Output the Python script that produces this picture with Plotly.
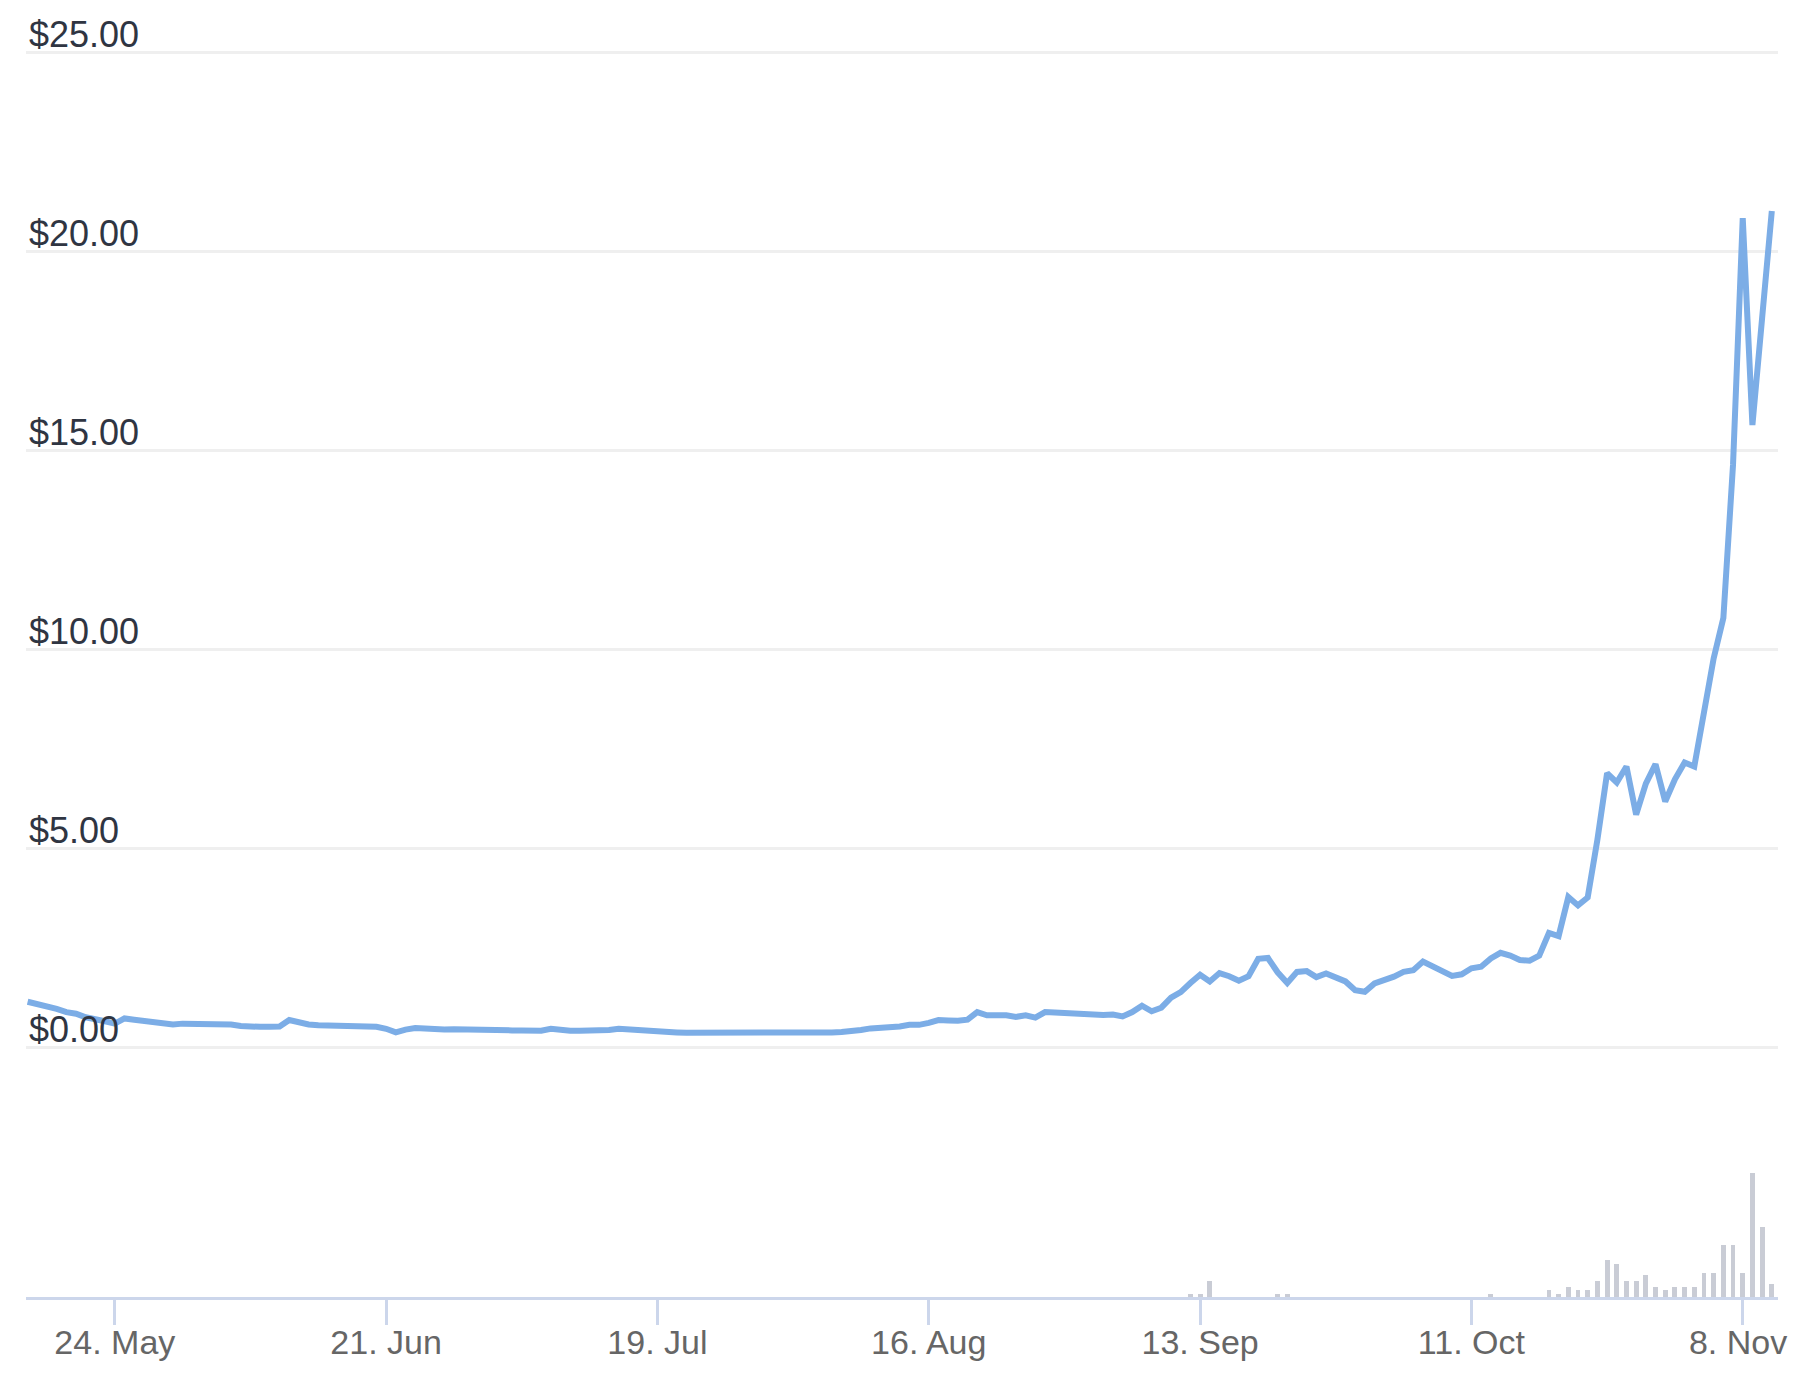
import pandas as pd
import plotly.graph_objects as go

# ---- data ----
start_date = "2021-05-15"
prices = [
    1.15, 1.10, 1.05, 0.97, 0.89, 0.85, 0.76, 0.72, 0.66, 0.60,
    0.73, 0.70, 0.67, 0.66, 0.62, 0.58, 0.60, 0.60, 0.59, 0.60,
    0.60, 0.58, 0.54, 0.52, 0.52, 0.52, 0.53, 0.69, 0.62, 0.58,
    0.56, 0.55, 0.55, 0.55, 0.55, 0.54, 0.52, 0.47, 0.38, 0.45,
    0.49, 0.48, 0.45, 0.45, 0.46, 0.45, 0.45, 0.43, 0.44, 0.43,
    0.43, 0.43, 0.42, 0.42, 0.47, 0.44, 0.42, 0.42, 0.42, 0.42,
    0.44, 0.47, 0.45, 0.44, 0.43, 0.42, 0.40, 0.38, 0.37, 0.37,
    0.38, 0.38, 0.38, 0.38, 0.36, 0.35, 0.36, 0.37, 0.38, 0.37,
    0.37, 0.37, 0.37, 0.38, 0.39, 0.40, 0.44, 0.48, 0.49, 0.49,
    0.53, 0.57, 0.57, 0.62, 0.69, 0.68, 0.67, 0.70, 0.89, 0.81,
    0.81, 0.81, 0.77, 0.81, 0.75, 0.89, 0.88, 0.87, 0.86, 0.84,
    0.81, 0.82, 0.83, 0.78, 0.89, 1.05, 0.91, 1.00, 1.25, 1.39,
    1.62, 1.83, 1.66, 1.87, 1.79, 1.68, 1.79, 2.23, 2.25, 1.89,
    1.62, 1.90, 1.92, 1.77, 1.86, 1.75, 1.66, 1.44, 1.40, 1.61,
    1.69, 1.78, 1.90, 1.94, 2.16, 2.05, 1.93, 1.80, 1.84, 1.99,
    2.03, 2.24, 2.38, 2.31, 2.20, 2.18, 2.31, 2.88, 2.80, 3.78,
    3.57, 3.77, 5.22, 6.89, 6.66, 7.06, 5.85, 6.63, 7.12, 6.18,
    6.74, 7.16, 7.06, 8.42, 9.78, 10.79, 14.65, 20.84, 15.64, 18.33,
    21.02,
]

volume_dates = [
    "2021-09-12", "2021-09-13", "2021-09-14", "2021-09-21", "2021-09-22",
    "2021-10-13", "2021-10-19", "2021-10-20", "2021-10-21", "2021-10-22",
    "2021-10-23", "2021-10-24", "2021-10-25", "2021-10-26", "2021-10-27",
    "2021-10-28", "2021-10-29", "2021-10-30", "2021-10-31", "2021-11-01",
    "2021-11-02", "2021-11-03", "2021-11-04", "2021-11-05", "2021-11-06",
    "2021-11-07", "2021-11-08", "2021-11-09", "2021-11-10", "2021-11-11",
]
volumes = [
    3.7, 3.7, 16, 3.7, 3.7,
    3.7, 7, 3.7, 10, 7,
    7, 16, 37, 33.7, 16,
    16, 22, 10, 7, 10,
    10, 10, 24.7, 24.7, 52,
    52, 24.7, 124.3, 70.3, 13,
]

y_tick_values = [0, 5, 10, 15, 20, 25]
y_tick_labels = ["$0.00", "$5.00", "$10.00", "$15.00", "$20.00", "$25.00"]
x_tick_values = ["2021-05-24", "2021-06-21", "2021-07-19", "2021-08-16",
                 "2021-09-13", "2021-10-11", "2021-11-08"]
# last label nudged inwards from the plot edge, as in the original
x_tick_labels = ["24. May", "21. Jun", "19. Jul", "16. Aug",
                 "13. Sep", "11. Oct", "8. Nov\u00a0"]

dates = pd.date_range(start_date, periods=len(prices), freq="D")

X_RANGE = ["2021-05-14 20:00", "2021-11-11 15:20"]
Y_RANGE = [-1.570, 26.068]
Y_DOMAIN = [0.1453, 1.0]

fig = go.Figure()
fig.add_trace(go.Bar(
    x=pd.to_datetime(volume_dates), y=volumes, xaxis="x", yaxis="y2",
    marker=dict(color="#c9ccd5", line=dict(width=0)),
    width=0.5 * 86400000, showlegend=False, hoverinfo="skip",
))
fig.add_trace(go.Scatter(
    x=dates, y=prices, mode="lines", xaxis="x", yaxis="y",
    line=dict(color="#7cade6", width=6),
    showlegend=False,
))
# invisible carrier trace for the price-label axis
fig.add_trace(go.Scatter(
    x=[dates[0]], y=[prices[0]], xaxis="x2", yaxis="y3", mode="markers",
    marker=dict(opacity=0), showlegend=False, hoverinfo="skip",
))

axis_font = "Liberation Sans, Arial, sans-serif"
fig.update_layout(
    width=1792, height=1368,
    margin=dict(l=18, r=22, t=2, b=79, autoexpand=False),
    paper_bgcolor="white", plot_bgcolor="white",
    bargap=0,
    xaxis=dict(
        type="date", range=X_RANGE, anchor="y2", automargin=False,
        tickvals=x_tick_values, ticktext=x_tick_labels,
        ticks="outside", ticklen=25, tickwidth=2.5, tickcolor="#ccd6eb",
        ticklabelstandoff=-12, ticklabeloverflow="allow",
        showline=True, linecolor="#ccd6eb", linewidth=2.5,
        showgrid=False, zeroline=False,
        tickfont=dict(family=axis_font, size=34, color="#666666"),
    ),
    xaxis2=dict(
        type="date", range=X_RANGE, overlaying="x", anchor="y3",
        visible=False, automargin=False,
    ),
    yaxis=dict(
        domain=Y_DOMAIN, range=Y_RANGE, anchor="x", automargin=False,
        tickvals=y_tick_values, showticklabels=False,
        showgrid=True, gridcolor="#efefef", gridwidth=2.5,
        zeroline=False, showline=False, ticks="",
    ),
    yaxis3=dict(
        domain=Y_DOMAIN, range=Y_RANGE, anchor="x2", overlaying="y",
        automargin=False,
        tickvals=y_tick_values, ticktext=y_tick_labels,
        ticklabelposition="inside top", ticklabelshift=7,
        showgrid=False, zeroline=False, showline=False, ticks="",
        tickfont=dict(family=axis_font, size=36, color="#2f3542"),
    ),
    yaxis2=dict(
        domain=[0.0, 0.09658], range=[0, max(volumes)], anchor="x",
        automargin=False,
        showgrid=False, zeroline=False, showline=False,
        showticklabels=False, ticks="",
    ),
)

fig.write_html("out.html")
